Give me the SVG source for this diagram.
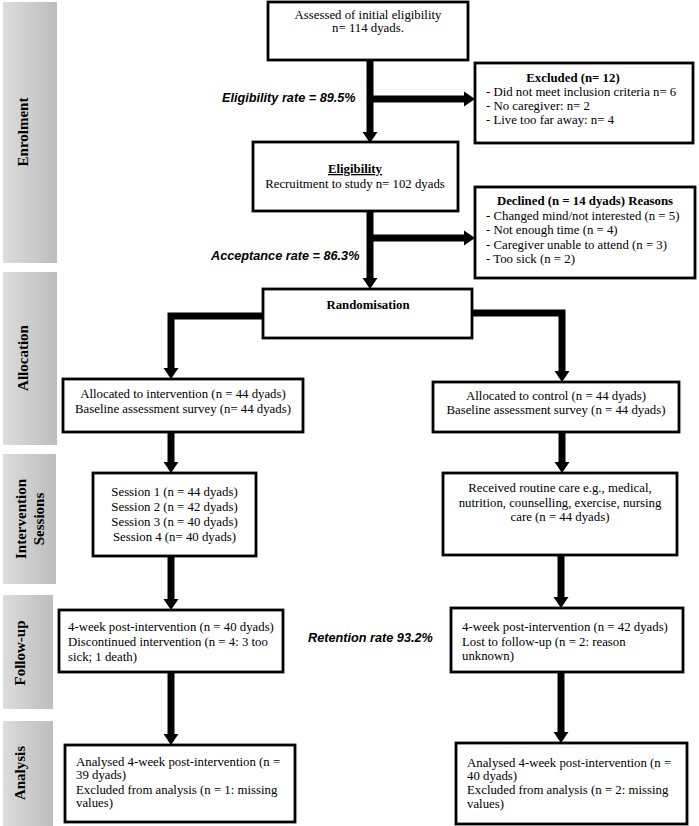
<svg xmlns="http://www.w3.org/2000/svg" width="699" height="826" viewBox="0 0 699 826">
<defs>
<linearGradient id="bar" x1="0" y1="0" x2="1" y2="0">
<stop offset="0" stop-color="#dcdcdc"/>
<stop offset="1" stop-color="#bdbdbd"/>
</linearGradient>
<marker id="ah" markerUnits="userSpaceOnUse" markerWidth="12" markerHeight="16" refX="0" refY="7.5" orient="auto" viewBox="0 0 12 15">
<path d="M0,0 L11,7.5 L0,15 z" fill="#000"/>
</marker>
<style>
.box{fill:#fff;stroke:#000;stroke-width:2.8}
.t{font-family:"Liberation Serif","Times New Roman",serif;font-size:12.8px;fill:#000}
.c{text-anchor:middle}
.b{font-weight:bold}
.rate{font-family:"Liberation Sans",Arial,sans-serif;font-size:12.7px;font-weight:bold;font-style:italic;fill:#000}
.side{fill:url(#bar)}
.sl{font-family:"Liberation Serif","Times New Roman",serif;font-size:15px;font-weight:bold;fill:#000;text-anchor:middle}
.con{fill:none;stroke:#000;stroke-width:7;stroke-linejoin:miter}
</style>
</defs>
<rect width="699" height="826" fill="#fff"/>

<g id="side-enrolment"><rect class="side" x="3" y="2" width="54" height="261"/><text class="sl" transform="translate(28,132) rotate(-90)">Enrolment</text></g>
<g id="side-allocation"><rect class="side" x="3" y="272" width="54" height="173"/><text class="sl" transform="translate(28,358) rotate(-90)">Allocation</text></g>
<g id="side-intervention"><rect class="side" x="3" y="454" width="53" height="130"/><text class="sl" transform="translate(26,519) rotate(-90)">Intervention</text><text class="sl" transform="translate(44,519) rotate(-90)">Sessions</text></g>
<g id="side-followup"><rect class="side" x="3" y="595" width="50" height="114"/><text class="sl" transform="translate(25,653) rotate(-90)">Follow-up</text></g>
<g id="side-analysis"><rect class="side" x="3" y="721" width="50" height="105"/><text class="sl" transform="translate(25,773) rotate(-90)">Analysis</text></g>

<g id="connectors">
<line class="con" x1="370" y1="60" x2="370" y2="132" marker-end="url(#ah)"/>
<line class="con" x1="370" y1="99" x2="464" y2="99" marker-end="url(#ah)"/>
<line class="con" x1="370" y1="211" x2="370" y2="278" marker-end="url(#ah)"/>
<line class="con" x1="370" y1="238" x2="464" y2="238" marker-end="url(#ah)"/>
<polyline class="con" points="263,316 171,316 171,368" marker-end="url(#ah)"/>
<polyline class="con" points="472,313 562,313 562,371" marker-end="url(#ah)"/>
<line class="con" x1="171" y1="432" x2="171" y2="462" marker-end="url(#ah)"/>
<line class="con" x1="562" y1="432" x2="562" y2="462" marker-end="url(#ah)"/>
<line class="con" x1="171" y1="556" x2="171" y2="599" marker-end="url(#ah)"/>
<line class="con" x1="561" y1="555" x2="561" y2="597" marker-end="url(#ah)"/>
<line class="con" x1="171" y1="672" x2="171" y2="734" marker-end="url(#ah)"/>
<line class="con" x1="561" y1="672" x2="561" y2="732" marker-end="url(#ah)"/>
</g>

<g id="assessed"><rect class="box" x="268" y="2" width="200" height="58"/>
<text class="t c" x="368" y="19">Assessed of initial eligibility</text>
<text class="t c" x="368" y="32">n= 114 dyads.</text></g>

<text class="rate" x="222" y="102">Eligibility rate = 89.5%</text>

<g id="excluded"><rect class="box" x="475" y="63" width="218" height="80"/>
<text class="t c b" x="573" y="82">Excluded (n= 12)</text>
<text class="t" x="486" y="96">- Did not meet inclusion criteria n= 6</text>
<text class="t" x="486" y="110">- No caregiver: n= 2</text>
<text class="t" x="486" y="124">- Live too far away: n= 4</text></g>

<g id="eligibility"><rect class="box" x="253" y="142" width="205" height="69"/>
<text class="t c b" x="355" y="173" text-decoration="underline">Eligibility</text>
<text class="t c" x="355" y="188">Recruitment to study n= 102 dyads</text></g>

<g id="declined"><rect class="box" x="475" y="187" width="220" height="91"/>
<text class="t c b" x="585" y="205">Declined (n = 14 dyads) Reasons</text>
<text class="t" x="486" y="220">- Changed mind/not interested (n = 5)</text>
<text class="t" x="486" y="234">- Not enough time (n = 4)</text>
<text class="t" x="486" y="249">- Caregiver unable to attend (n = 3)</text>
<text class="t" x="486" y="263">- Too sick (n = 2)</text></g>

<text class="rate" x="211" y="260">Acceptance rate = 86.3%</text>

<g id="randomisation"><rect class="box" x="263" y="289" width="209" height="49"/>
<text class="t c b" x="368" y="309">Randomisation</text></g>

<g id="alloc-intervention"><rect class="box" x="63" y="379" width="240" height="53"/>
<text class="t c" x="183" y="398">Allocated to intervention (n = 44 dyads)</text>
<text class="t c" x="183" y="413">Baseline assessment survey (n= 44 dyads)</text></g>

<g id="alloc-control"><rect class="box" x="433" y="382" width="246" height="50"/>
<text class="t c" x="556" y="400">Allocated to control (n = 44 dyads)</text>
<text class="t c" x="556" y="414">Baseline assessment survey (n = 44 dyads)</text></g>

<g id="sessions"><rect class="box" x="93" y="473" width="163" height="83"/>
<text class="t c" x="174.5" y="496">Session 1 (n = 44 dyads)</text>
<text class="t c" x="174.5" y="511">Session 2 (n = 42 dyads)</text>
<text class="t c" x="174.5" y="526">Session 3 (n = 40 dyads)</text>
<text class="t c" x="174.5" y="541">Session 4 (n= 40 dyads)</text></g>

<g id="routine"><rect class="box" x="443" y="473" width="234" height="82"/>
<text class="t c" x="560" y="492">Received routine care e.g., medical,</text>
<text class="t c" x="560" y="507">nutrition, counselling, exercise, nursing</text>
<text class="t c" x="560" y="521">care (n = 44 dyads)</text></g>

<g id="followup-int"><rect class="box" x="59" y="610" width="224" height="62"/>
<text class="t" x="68" y="631">4-week post-intervention (n = 40 dyads)</text>
<text class="t" x="68" y="646">Discontinued intervention (n = 4: 3 too</text>
<text class="t" x="68" y="661">sick; 1 death)</text></g>

<text class="rate" x="308" y="642">Retention rate 93.2%</text>

<g id="followup-ctl"><rect class="box" x="451" y="608" width="232" height="64"/>
<text class="t" x="462" y="631">4-week post-intervention (n = 42 dyads)</text>
<text class="t" x="462" y="646">Lost to follow-up (n = 2: reason</text>
<text class="t" x="462" y="660">unknown)</text></g>

<g id="analysis-int"><rect class="box" x="65" y="745" width="230" height="77"/>
<text class="t" x="76" y="766">Analysed 4-week post-intervention (n =</text>
<text class="t" x="76" y="779">39 dyads)</text>
<text class="t" x="76" y="794">Excluded from analysis (n = 1: missing</text>
<text class="t" x="76" y="807">values)</text></g>

<g id="analysis-ctl"><rect class="box" x="456" y="743" width="231" height="81"/>
<text class="t" x="467" y="767">Analysed 4-week post-intervention (n =</text>
<text class="t" x="467" y="780">40 dyads)</text>
<text class="t" x="467" y="794">Excluded from analysis (n = 2: missing</text>
<text class="t" x="467" y="808">values)</text></g>
</svg>
